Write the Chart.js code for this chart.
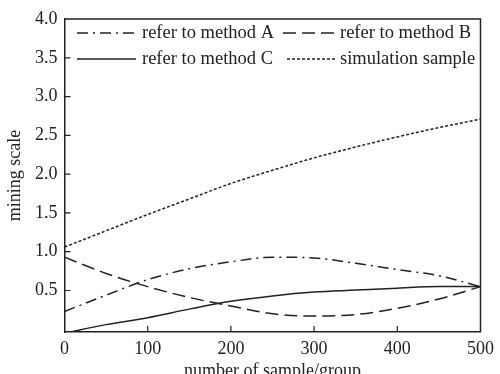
<!DOCTYPE html>
<html>
<head>
<meta charset="utf-8">
<script src="https://cdn.jsdelivr.net/npm/chart.js@4/dist/chart.umd.min.js"></script>
<style>
  html, body { margin: 0; padding: 0; background: #fff; }
  #wrap { width: 500px; height: 374px; }
</style>
</head>
<body>
<div id="wrap"><canvas id="chart"></canvas></div>
<script>
// values
const sampleCounts = [0, 50, 100, 150, 200, 250, 300, 350, 400, 450, 500]
const methodA = [0.23, 0.44, 0.64, 0.78, 0.87, 0.93, 0.92, 0.85, 0.77, 0.69, 0.55]
const methodB = [0.93, 0.72, 0.55, 0.41, 0.30, 0.20, 0.17, 0.19, 0.27, 0.39, 0.55]
const methodC = [-0.05, 0.06, 0.15, 0.26, 0.36, 0.43, 0.48, 0.505, 0.53, 0.55, 0.55]
const simulation = [1.06, 1.27, 1.48, 1.68, 1.88, 2.05, 2.21, 2.35, 2.48, 2.60, 2.71]

const xTicks = [0, 100, 200, 300, 400, 500]
const yTicks = [0.5, 1.0, 1.5, 2.0, 2.5, 3.0, 3.5, 4.0]

const ink = '#222'
const serif = 'Liberation Serif'

const toPoints = vals => vals.map((v, i) => ({ x: sampleCounts[i], y: v }))

function series (label, vals, dash) {
  return {
    label,
    data: toPoints(vals),
    borderColor: ink,
    borderWidth: 1.5,
    borderDash: dash,
    pointRadius: 0,
    fill: false,
    cubicInterpolationMode: 'monotone'
  }
}

// legend slots inside the plot (two rows, two columns)
const legendSlots = [
  { x0: 77, x1: 136, tx: 142, y: 33 },
  { x0: 283, x1: 334, tx: 340, y: 33 },
  { x0: 77, x1: 136, tx: 142, y: 59 },
  { x0: 287, x1: 335, tx: 340, y: 59 }
]

const frameAndLegend = {
  id: 'frameAndLegend',
  afterDraw (chart) {
    const { ctx, chartArea: a, scales } = chart
    ctx.save()
    ctx.strokeStyle = ink
    ctx.lineWidth = 1.5
    ctx.setLineDash([])
    ctx.beginPath()
    ctx.moveTo(a.left, a.top)
    ctx.lineTo(a.right, a.top)
    ctx.lineTo(a.right, a.bottom)
    ctx.stroke()

    // inward tick marks
    ctx.lineWidth = 1.2
    ctx.beginPath()
    xTicks.slice(1, -1).forEach(v => {
      const px = scales.x.getPixelForValue(v)
      ctx.moveTo(px, a.bottom)
      ctx.lineTo(px, a.bottom - 6)
    })
    yTicks.slice(0, -1).forEach(v => {
      const py = scales.y.getPixelForValue(v)
      ctx.moveTo(a.left, py)
      ctx.lineTo(a.left + 6, py)
    })
    ctx.stroke()

    // legend
    ctx.font = '18.5px "' + serif + '"'
    ctx.textBaseline = 'middle'
    ctx.fillStyle = ink
    chart.data.datasets.forEach((ds, i) => {
      const s = legendSlots[i]
      ctx.lineWidth = 1.5
      ctx.setLineDash(ds.borderDash || [])
      ctx.beginPath()
      ctx.moveTo(s.x0, s.y)
      ctx.lineTo(s.x1, s.y)
      ctx.stroke()
      ctx.setLineDash([])
      ctx.fillText(ds.label, s.tx, s.y)
    })
    ctx.restore()
  }
}

new Chart(document.getElementById('chart'), {
  type: 'line',
  data: {
    datasets: [
      series('refer to method A', methodA, [11, 5, 2, 5]),
      series('refer to method B', methodB, [13, 6]),
      series('refer to method C', methodC, []),
      series('simulation sample', simulation, [3, 2])
    ]
  },
  options: {
    responsive: true,
    maintainAspectRatio: false,
    animation: false,
    layout: { padding: { left: 0, right: 14, top: 19, bottom: 0 } },
    plugins: {
      legend: { display: false },
      tooltip: { enabled: false }
    },
    scales: {
      x: {
        type: 'linear',
        min: 0,
        max: 500,
        afterBuildTicks: axis => { axis.ticks = xTicks.map(v => ({ value: v })) },
        afterFit: axis => { axis.height = 42 },
        grid: { display: false, drawTicks: false },
        border: { display: true, color: ink, width: 1.5 },
        ticks: {
          color: ink,
          padding: 6,
          maxRotation: 0,
          font: { family: serif, size: 18 }
        },
        title: {
          display: true,
          text: 'number of sample/group',
          color: ink,
          font: { family: serif, size: 18 },
          padding: { top: 0, bottom: -8 }
        }
      },
      y: {
        min: -0.035,
        max: 4.0,
        afterBuildTicks: axis => { axis.ticks = yTicks.map(v => ({ value: v })) },
        afterFit: axis => { axis.width = 64.5 },
        grid: { display: false, drawTicks: false },
        border: { display: true, color: ink, width: 1.5 },
        ticks: {
          color: ink,
          padding: 7,
          font: { family: serif, size: 18 },
          callback: v => v.toFixed(1)
        },
        title: {
          display: true,
          text: 'mining scale',
          color: ink,
          font: { family: serif, size: 18 },
          padding: { top: 4, bottom: 0 }
        }
      }
    }
  },
  plugins: [frameAndLegend]
})
</script>
</body>
</html>
